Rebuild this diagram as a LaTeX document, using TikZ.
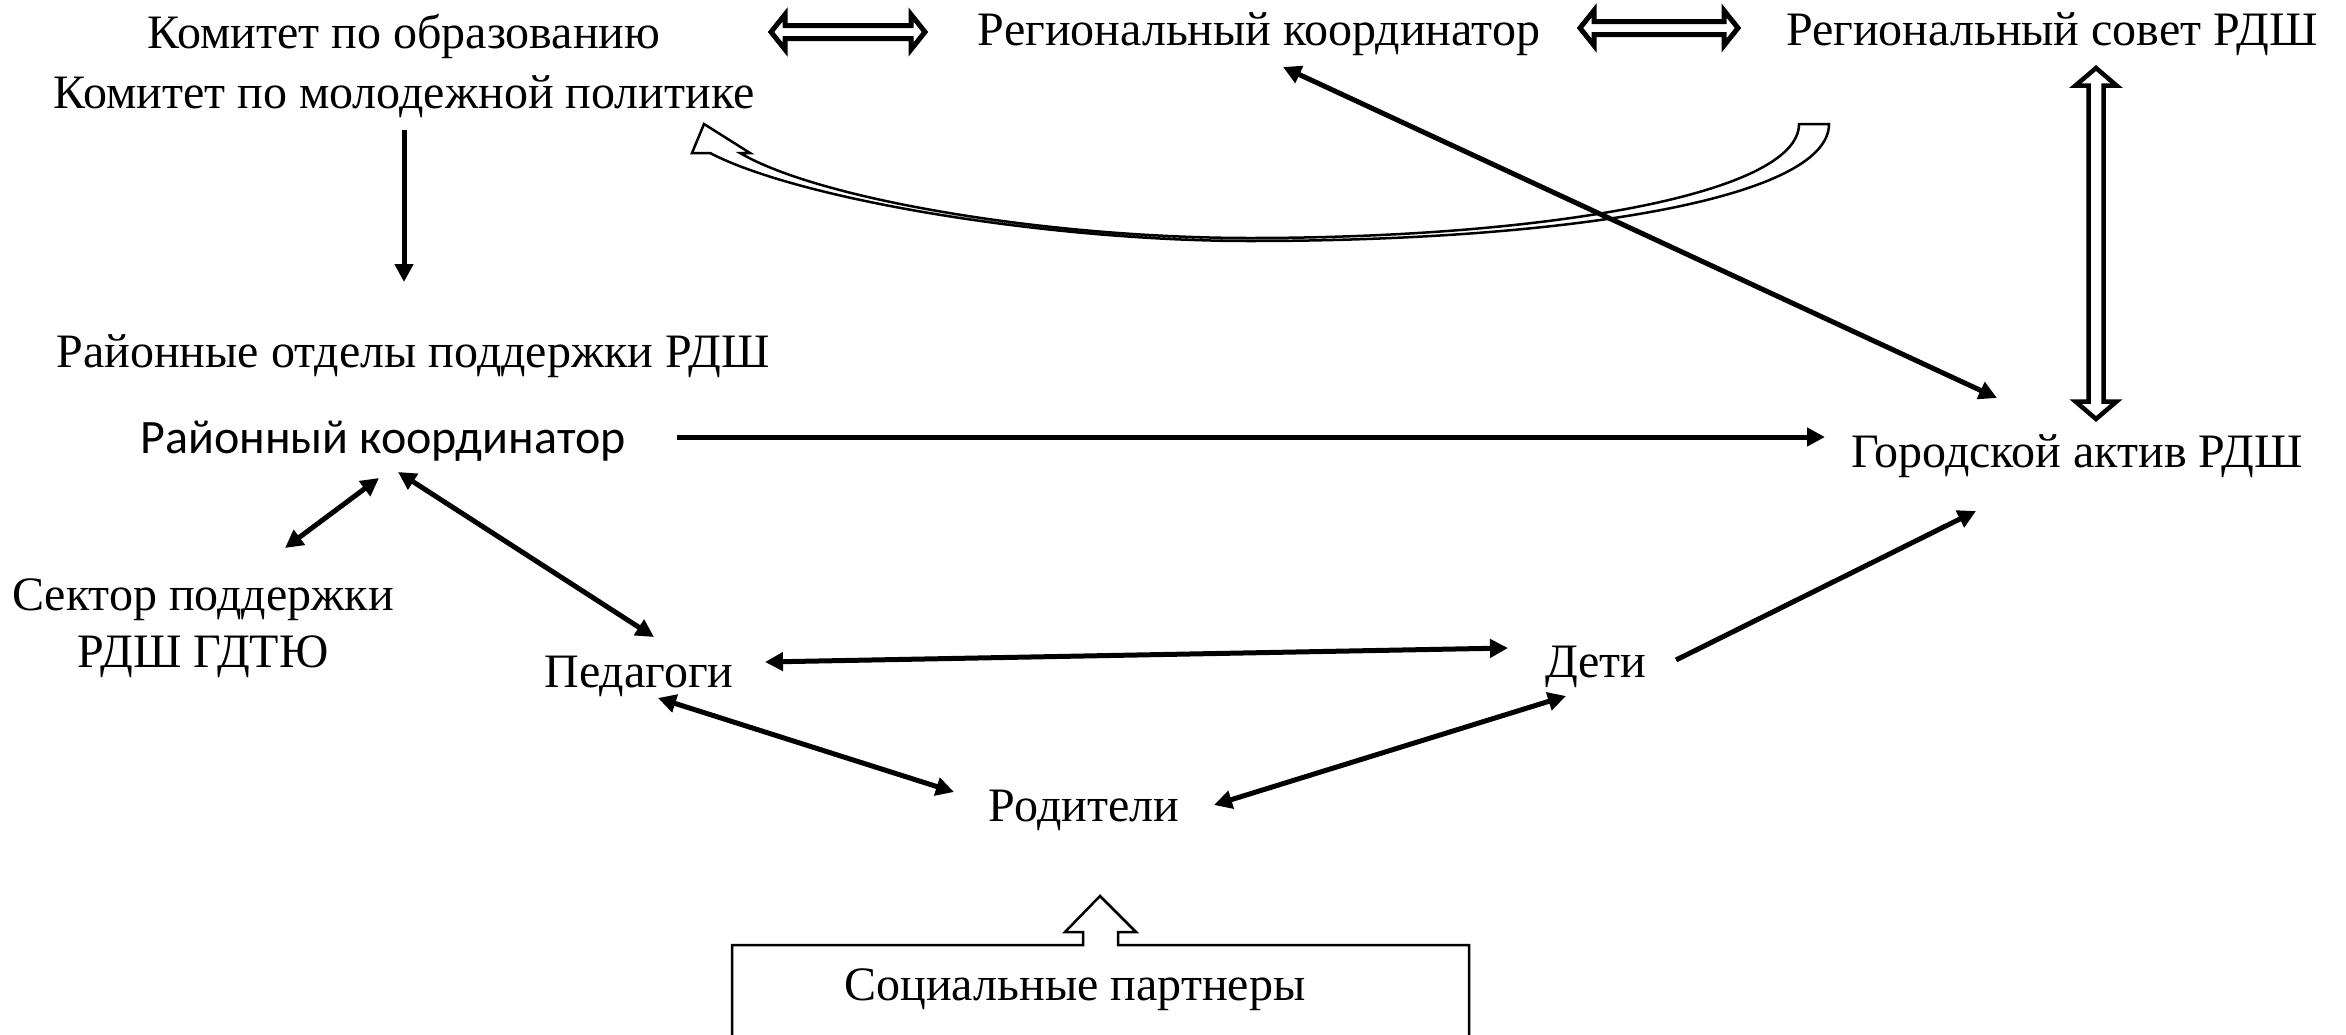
\documentclass[tikz,border=0pt]{standalone}
\usepackage{fontspec}
\setmainfont{Liberation Serif}
\newfontfamily\calibri{Carlito}
\usetikzlibrary{arrows.meta,calc}
\newcommand{\hblk}[2]{%
 \draw[blk] #1 ++(3,0) -- ++(14,-17.5) -- ++(0,11) -- ++(#2-34,0) -- ++(0,-11) -- ++(14,17.5) -- ++(-14,17.5) -- ++(0,-11) -- ++(-#2+34,0) -- ++(0,11) -- cycle;}
\newcommand{\vblk}[2]{%
 \draw[blk,line width=4.5pt] #1 ++(0,3) -- ++(20.5,17.5) -- ++(-13,0) -- ++(0,#2-41) -- ++(13,0) -- ++(-20.5,17.5) -- ++(-20.5,-17.5) -- ++(13,0) -- ++(0,-#2+41) -- ++(-13,0) -- cycle;}
\begin{document}
\begin{tikzpicture}[x=1pt,y=-1pt,
  lbl/.style={anchor=base,inner sep=0pt,font=\fontsize{48}{57}\selectfont},
  arr/.style={line width=5pt,-{Triangle[length=18pt,width=18pt]}},
  darr/.style={line width=5pt,{Triangle[length=18pt,width=18pt]}-{Triangle[length=18pt,width=18pt]}},
  blk/.style={draw=black,fill=white,line width=5pt,miter limit=10},
  ribbon/.style={draw=black,fill=white,line width=2.5pt},
  boxline/.style={draw=black,line width=2.5pt}]
\useasboundingbox (0,0) rectangle (2346,1034);
% labels
\node[lbl] (kom1) at (404,48) {Комитет по образованию};
\node[lbl] (kom2) at (404,108) {Комитет по молодежной политике};
\node[lbl] (regk) at (1259,45) {Региональный координатор};
\node[lbl] (regs) at (2052,45) {Региональный совет РДШ};
\node[lbl] (rotd) at (413,367) {Районные отделы поддержки РДШ};
\node[lbl,font=\calibri\fontsize{48}{57}\selectfont] (rk) at (383,453) {Районный координатор};
\node[lbl] (gor) at (2077,467) {Городской актив РДШ};
\node[lbl] (sec) at (203,610) {Сектор поддержки};
\node[lbl] (sec2) at (203,667) {РДШ ГДТЮ};
\node[lbl] (ped) at (639,687) {Педагоги};
\node[lbl] (deti) at (1596,677) {Дети};
\node[lbl] (rod) at (1084,821) {Родители};
\node[lbl] (soc) at (1075,1000) {Социальные партнеры};
% curved ribbon arrow (regional council -> committees)
\draw[ribbon] (692,153) -- (704,124) -- (750,153) -- (740,153)
  .. controls (820,200) and (1050,238) .. (1250,238)
  .. controls (1540,238) and (1799,195) .. (1799,124) -- (1829,124)
  .. controls (1829,200) and (1560,241) .. (1250,241)
  .. controls (1050,241) and (800,200) .. (710,153) -- cycle;
% block arrows
\hblk{([shift={(364,-16)}]kom1.base)}{160}
\hblk{([shift={(318,-17)}]regk.base)}{164}
\vblk{([shift={(44,20)}]regs.base)}{357}
% connectors
\draw[arr] ([shift={(0,22)}]kom2.base) -- ([shift={(-9,-85)}]rotd.base);
\draw[darr] ([shift={(24,22)}]regk.base) -- ([shift={(-80,-69)}]gor.base);
\draw[arr] ([shift={(294,-16)}]rk.base) -- ([shift={(-252,-30)}]gor.base);
\draw[darr] ([shift={(-4,25)}]rk.base) -- ([shift={(82,-62)}]sec.base);
\draw[darr] ([shift={(15,19)}]rk.base) -- ([shift={(15,-50)}]ped.base);
\draw[darr] ([shift={(126,-25)}]ped.base) -- ([shift={(-88,-29)}]deti.base);
\draw[arr] ([shift={(80,-17)}]deti.base) -- ([shift={(-101,44)}]gor.base);
\draw[darr] ([shift={(19,11)}]ped.base) -- ([shift={(-130,-29)}]rod.base);
\draw[darr] ([shift={(-30,19)}]deti.base) -- ([shift={(130,-16)}]rod.base);
% social partners box with block arrow up to parents
\draw[boxline,miter limit=10] ([shift={(-343,45)}]soc.base) -- ++(0,-100) -- ++(351,0) -- ++(0,-13) -- ++(-18,0) -- ++(35,-36) -- ++(36,36) -- ++(-18,0) -- ++(0,13) -- ++(351,0) -- ++(0,100);
\end{tikzpicture}
\end{document}
